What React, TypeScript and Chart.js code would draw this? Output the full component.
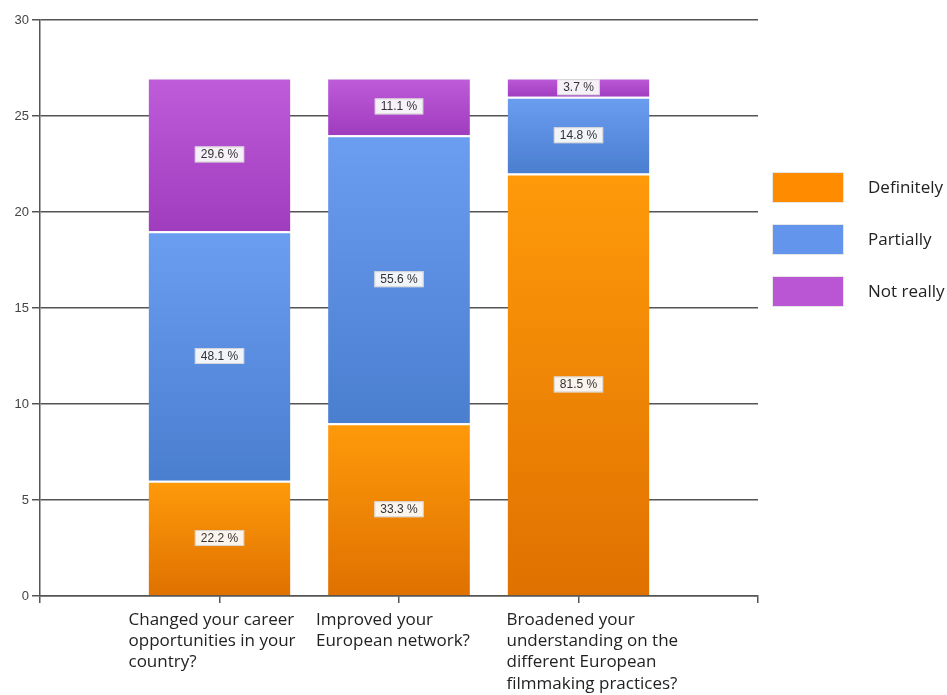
import React, { useEffect, useRef } from "react";
import { Chart, registerables } from "chart.js";

Chart.register(...registerables);

const categories: string[][] = [
  ["Changed your career", "opportunities in your", "country?"],
  ["Improved your", "European network?"],
  ["Broadened your", "understanding on the", "different European", "filmmaking practices?"],
];
const seriesNames = ["Definitely", "Partially", "Not really"];
const definitely = [6, 9, 22];
const partially = [13, 15, 4];
const notReally = [8, 3, 1];
const yTicks = { min: 0, max: 30, step: 5 };

const legendColors = ["#FF8C00", "#6495ED", "#BA55D3"];
const gradTop = ["#FF9A0A", "#6B9DF0", "#BF5CDA"];
const gradBottom = ["#DF7100", "#4A7ECF", "#A03CBE"];
const labelShift = [-91, -83, -72];
const FONT = "'Open Sans', 'Noto Sans', sans-serif";

const seriesValues = [definitely, partially, notReally];

export default function App() {
  const canvasRef = useRef<HTMLCanvasElement | null>(null);

  useEffect(() => {
    const canvas = canvasRef.current;
    if (!canvas) return;

    const totals = categories.map((_, i) =>
      seriesValues.reduce((s, arr) => s + arr[i], 0)
    );

    const gradient = (di: number) => (ctx: any) => {
      const chart = ctx.chart;
      const area = chart.chartArea;
      if (!area || ctx.type !== "data" || ctx.raw == null) return legendColors[di];
      const idx = ctx.dataIndex - 1;
      let base = 0;
      for (let k = 0; k < di; k++) base += seriesValues[k][idx];
      const top = base + seriesValues[di][idx];
      const ys = chart.scales.y;
      if (!ys) return legendColors[di];
      const y0 = ys.getPixelForValue(top);
      const y1 = ys.getPixelForValue(base);
      if (!isFinite(y0) || !isFinite(y1) || y0 === y1) return legendColors[di];
      const g = chart.ctx.createLinearGradient(0, y0, 0, y1);
      g.addColorStop(0, gradTop[di]);
      g.addColorStop(1, gradBottom[di]);
      return g;
    };

    const valueLabels = {
      id: "valueLabels",
      afterDatasetsDraw(chart: any) {
        const c = chart.ctx;
        c.save();
        c.font = "12px 'Liberation Sans', Arial, sans-serif";
        c.textAlign = "center";
        c.textBaseline = "middle";
        chart.data.datasets.forEach((ds: any, di: number) => {
          const meta = chart.getDatasetMeta(di);
          meta.data.forEach((el: any, i: number) => {
            const v = ds.data[i];
            if (v == null) return;
            const pct = ((v / totals[i - 1]) * 100).toFixed(1) + " %";
            const cx = el.x;
            const cy = (el.y + el.base) / 2;
            const w = c.measureText(pct).width + 12;
            const h = 16;
            c.fillStyle = "rgba(250,250,250,0.95)";
            c.fillRect(cx - w / 2, cy - h / 2, w, h);
            c.strokeStyle = "rgba(205,205,205,0.8)";
            c.lineWidth = 1;
            c.strokeRect(cx - w / 2 + 0.5, cy - h / 2 + 0.5, w - 1, h - 1);
            c.fillStyle = "#333";
            c.fillText(pct, cx, cy + 0.5);
          });
        });
        c.restore();
      },
    };

    const extras = {
      id: "extras",
      afterDraw(chart: any) {
        const c = chart.ctx;
        const xs = chart.scales.x;
        const area = chart.chartArea;
        c.save();
        c.font = "17px " + FONT;
        c.fillStyle = "#222";
        c.textAlign = "left";
        c.textBaseline = "middle";
        categories.forEach((lines, i) => {
          const px = xs.getPixelForValue(i + 1) + labelShift[i];
          lines.forEach((ln, li) => {
            c.fillText(ln, px, area.bottom + 24 + li * 21.3);
          });
        });
        // legend
        const lx = 773;
        const ly0 = 173;
        seriesNames.forEach((name, i) => {
          const y = ly0 + i * 52;
          c.fillStyle = "#e6e6e6";
          c.fillRect(lx - 1, y - 1, 72, 31);
          c.fillStyle = legendColors[i];
          c.fillRect(lx, y, 70, 29);
          c.fillStyle = "#222";
          c.fillText(name, 868, y + 15);
        });
        c.restore();
      },
    };

    const labels = ["", ...categories.map((l) => l.join(" ")), ""];
    const pad = (arr: number[]) => [null, ...arr, null];

    const chart = new Chart(canvas, {
      type: "bar",
      data: {
        labels,
        datasets: seriesValues.map((arr, di) => ({
          label: seriesNames[di],
          data: pad(arr),
          backgroundColor: gradient(di),
          borderColor: "rgba(255,255,255,0.55)",
          borderWidth: { top: 2, bottom: 0, left: 0, right: 0 },
          borderSkipped: false,
          categoryPercentage: 1,
          barPercentage: 0.79,
        })),
      },
      options: {
        animation: false,
        responsive: true,
        maintainAspectRatio: false,
        layout: { padding: { top: 20, right: 189, left: 0, bottom: 0 } },
        plugins: {
          legend: { display: false },
          tooltip: { enabled: false },
        },
        scales: {
          x: {
            stacked: true,
            offset: false,
            grid: {
              display: true,
              offset: false,
              drawOnChartArea: false,
              drawTicks: true,
              tickLength: 7,
              color: "#555",
              lineWidth: 1.5,
            },
            border: { display: true, color: "#555", width: 1.5 },
            ticks: { display: false },
            afterFit: (s: any) => {
              s.height = 99;
            },
          },
          y: {
            stacked: true,
            min: yTicks.min,
            max: yTicks.max,
            ticks: {
              stepSize: yTicks.step,
              color: "#444",
              padding: 3,
              font: { family: "'Liberation Sans', Arial, sans-serif", size: 13 },
            },
            grid: {
              color: "#555",
              lineWidth: 1.5,
              tickLength: 8,
              drawTicks: true,
            },
            border: { display: true, color: "#555", width: 1.5 },
            afterFit: (s: any) => {
              s.width = 40;
            },
          },
        },
      },
      plugins: [valueLabels, extras],
    });

    return () => chart.destroy();
  }, []);

  return (
    <div style={{ position: "absolute", left: 0, top: 0, width: 947, height: 695, background: "#fff" }}>
      <canvas ref={canvasRef} />
    </div>
  );
}
